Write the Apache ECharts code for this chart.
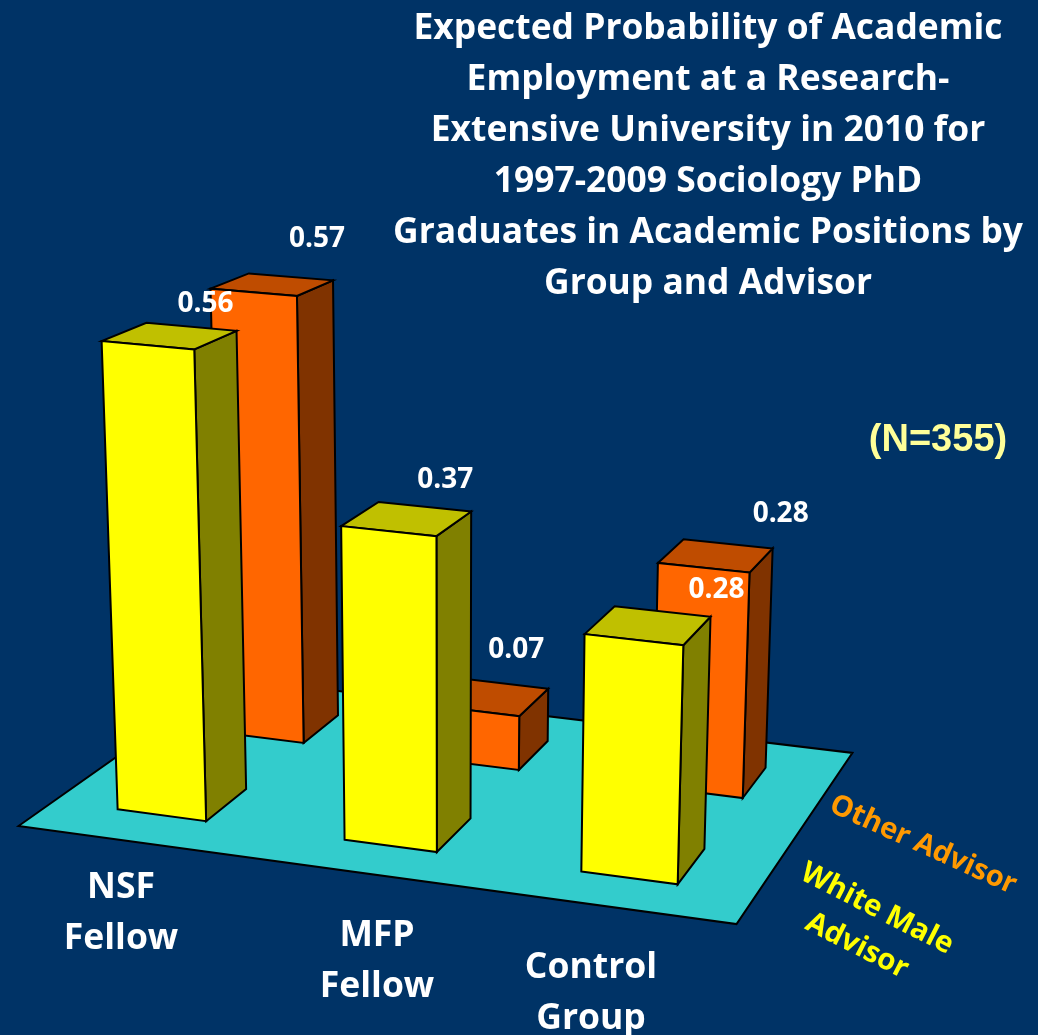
<!DOCTYPE html>
<html>
<head>
<meta charset="utf-8">
<style>html,body{margin:0;padding:0;background:#003366}#c{width:1038px;height:1035px}</style>
<script src="https://cdn.jsdelivr.net/npm/echarts@6/dist/echarts.min.js"></script>
</head>
<body>
<div id="c"></div>
<script>
// ---- data ----
const categories = ['NSF\nFellow', 'MFP\nFellow', 'Control\nGroup'];
const seriesNames = ['Other Advisor', 'White Male Advisor'];
const otherAdvisor = [0.57, 0.07, 0.284];
const whiteMaleAdvisor = [0.56, 0.374, 0.28];
const titleLines = [
  'Expected Probability of Academic',
  'Employment at a Research-',
  'Extensive University in 2010 for',
  '1997-2009 Sociology PhD',
  'Graduates in Academic Positions by',
  'Group and Advisor'
];
const sampleNote = '(N=355)';

// ---- camera: world (X along groups, Y in depth, Z value) -> screen ----
const camera = [
  [671.43, 247.03, -37.6, 18.5],
  [39.6, -38.05, -880, 826],
  [-0.06327, 0.1624, -0.0835, 1]
];
function project(X, Y, Z) {
  const r = camera.map(m => m[0] * X + m[1] * Y + m[2] * Z + m[3]);
  return [r[0] / r[2], r[1] / r[2]];
}
const barShare = 0.395, depthShare = 0.39, barShift = -0.005;
const font = '"Open Sans"';
// label nudge from the back right top corner of each bar
const labelNudge = {
  other: [[-16, -41], [-32, -39], [8, -34]],
  white: [[-31, -27], [-26, -31], [6, -27]]
};
const rowStyles = {
  other: { front: '#FF6600', top: '#BF4C00', side: '#803300', depthCenter: 0.745 },
  white: { front: '#FFFF00', top: '#C0C000', side: '#808000', depthCenter: 0.247 }
};

function poly(points, fill) {
  return {
    type: 'polygon',
    shape: { points: points },
    style: { fill: fill, stroke: '#000', lineWidth: 2, lineJoin: 'miter' }
  };
}

function barRenderer(rowKey) {
  const st = rowStyles[rowKey];
  return function (params, api) {
    const cs = params.coordSys;
    const i = api.value(0), v = api.value(1);
    const base = api.coord([i, 0]);
    const head = api.coord([i, v]);
    const band = api.size([1, 0])[0];
    const cx = (base[0] - cs.x) / cs.width + barShift;
    const half = band * barShare / 2 / cs.width;
    const Z = (base[1] - head[1]) / cs.height;
    const x0 = cx - half, x1 = cx + half;
    const yA = st.depthCenter - depthShare / 4, yB = st.depthCenter + depthShare / 4;
    const FLb = project(x0, yA, 0), FRb = project(x1, yA, 0), BRb = project(x1, yB, 0);
    const FLt = project(x0, yA, Z), FRt = project(x1, yA, Z), BRt = project(x1, yB, Z), BLt = project(x0, yB, Z);
    const nudge = labelNudge[rowKey][i];
    return {
      type: 'group',
      children: [
        poly([FRb, BRb, BRt, FRt], st.side),
        poly([FLt, FRt, BRt, BLt], st.top),
        poly([FLb, FRb, FRt, FLt], st.front),
        {
          type: 'text', z2: 100,
          style: {
            x: BRt[0] + nudge[0], y: BRt[1] + nudge[1],
            text: v.toFixed(2), fill: '#fff',
            font: 'bold 28px ' + font, align: 'center', verticalAlign: 'middle'
          }
        }
      ]
    };
  };
}

function floorRenderer() {
  return poly([project(0, 0, 0), project(1, 0, 0), project(1, 1, 0), project(0, 1, 0)], '#33CCCC');
}

function textEl(text, x, y, size, fill, rot, family) {
  return {
    type: 'text', x: x, y: y, rotation: rot || 0, z: 20,
    style: {
      text: text, fill: fill, align: 'center', verticalAlign: 'middle',
      font: 'bold ' + size + 'px ' + (family || font), lineHeight: 51
    }
  };
}
const catPos = [[121, 913], [377, 961], [591, 993]];
const deg = Math.PI / 180;
const graphics = categories.map((c, i) => textEl(c, catPos[i][0], catPos[i][1], 35.5, '#fff'));
graphics.push(textEl(sampleNote, 938, 441, 38, '#FFFF99', 0, '"Liberation Sans"'));
graphics.push(textEl('Other Advisor', 923, 845, 29, '#FF9900', -24.4 * deg));
graphics.push(textEl('White Male', 877, 909, 29.5, '#FFFF00', -27 * deg));
graphics.push(textEl('Advisor', 857, 946, 29.5, '#FFFF00', -27 * deg));

const chart = echarts.init(document.getElementById('c'), null, { renderer: 'canvas', width: 1038, height: 1035 });
chart.setOption({
  animation: false,
  backgroundColor: '#003366',
  title: {
    text: titleLines.join('\n'), left: 703, top: -2, textAlign: 'center',
    textStyle: { color: '#fff', fontFamily: font, fontWeight: 'bold', fontSize: 35.4, lineHeight: 51 }
  },
  grid: { left: 0, right: 0, top: 0, bottom: 0 },
  xAxis: { type: 'category', data: categories, show: false },
  yAxis: { type: 'value', min: 0, max: 1, show: false },
  graphic: { elements: graphics },
  series: [
    { type: 'custom', name: 'floor', z: 1, silent: true, clip: false, data: [[0, 0]], renderItem: floorRenderer },
    { type: 'custom', name: seriesNames[0], z: 2, clip: false, renderItem: barRenderer('other'),
      data: otherAdvisor.map((v, i) => [i, v]), encode: { x: 0, y: 1 } },
    { type: 'custom', name: seriesNames[1], z: 3, clip: false, renderItem: barRenderer('white'),
      data: whiteMaleAdvisor.map((v, i) => [i, v]), encode: { x: 0, y: 1 } }
  ]
});
</script>
</body>
</html>
